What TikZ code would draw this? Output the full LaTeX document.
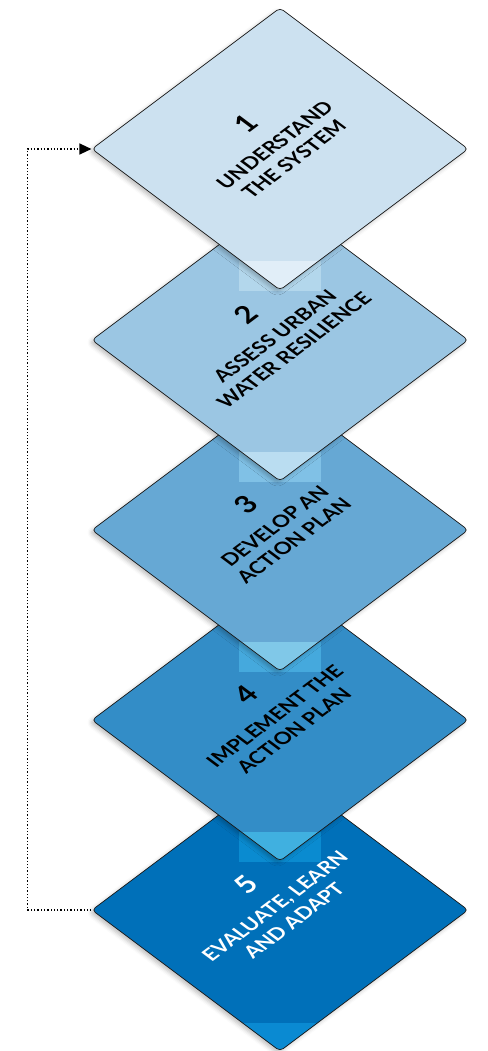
\documentclass[tikz,border=0pt]{standalone}
\usepackage{fontspec}
\setmainfont{Lato}
\usepackage{tikz}
\usetikzlibrary{arrows.meta,positioning,shadows.blur}
\definecolor{stageone}{HTML}{CCE1F0}
\definecolor{stagetwo}{HTML}{9BC6E3}
\definecolor{stagethree}{HTML}{66A8D4}
\definecolor{stagefour}{HTML}{338DC7}
\definecolor{stagefive}{HTML}{0070B9}
\definecolor{tabupone}{HTML}{E1EEF8}
\definecolor{tablowone}{HTML}{B3D7EC}
\definecolor{tabuptwo}{HTML}{BADDF1}
\definecolor{tablowtwo}{HTML}{80C1E6}
\definecolor{tabupthree}{HTML}{80C8E8}
\definecolor{tablowthree}{HTML}{45A9DD}
\definecolor{tabupfour}{HTML}{40B0E0}
\definecolor{tablowfour}{HTML}{0A8BD0}
\definecolor{tabfive}{HTML}{0A8AD2}
\newcommand\stagenum[1]{{\fontsize{28}{28}\selectfont #1}}

\begin{document}
\begin{tikzpicture}[
  x=1pt, y=1pt,
  stage/.style={rectangle, draw=black!90, line width=0.7pt, rounded corners=4pt, minimum size=235pt, inner sep=0pt, cm={0.8,0.6,-0.8,0.6,(0,0)}, blur shadow={shadow xshift=-2.5pt, shadow yshift=-2.5pt, shadow blur radius=4pt, shadow opacity=25}},
  stagetext/.style={cm={0.8,0.6,-0.8,0.6,(0,0)}, yshift=14pt, align=center, inner sep=0pt, font=\bfseries\fontsize{20}{24}\selectfont},
  tabtop/.style 2 args={path picture={\pgftransformreset\fill[#1] (239,#2) rectangle (321,#2-30);}},
  back/.style={-{Triangle[length=12pt,width=11pt]}, line width=1.3pt, dash pattern=on 1.3pt off 2pt, black}
]
  \useasboundingbox (0,0) rectangle (487,-1051);
  % bottom stage first, the upper ones lie on top
  \node[stage, fill=stagefive, tabtop={tabfive}{-1023}] (s5) at (280,-910) {};
  \node[stagetext, text=white] (t5) at (s5.center) {\stagenum{5}\\[9pt] EVALUATE, LEARN\\ AND ADAPT};
  \fill[tablowfour] (239,-832) rectangle (321,-862);
  \node[stage, fill=stagefour, tabtop={tabupfour}{-832}] (s4) at (280,-720) {};
  \node[stagetext] (t4) at (s4.center) {\stagenum{4}\\[9pt] IMPLEMENT THE\\ ACTION PLAN};
  \fill[tablowthree] (239,-642) rectangle (321,-672);
  \node[stage, fill=stagethree, tabtop={tabupthree}{-642}] (s3) at (280,-530) {};
  \node[stagetext] (t3) at (s3.center) {\stagenum{3}\\[9pt] DEVELOP AN\\ ACTION PLAN};
  \fill[tablowtwo] (239,-452) rectangle (321,-482);
  \node[stage, fill=stagetwo, tabtop={tabuptwo}{-452}] (s2) at (280,-340) {};
  \node[stagetext] (t2) at (s2.center) {\stagenum{2}\\[9pt] ASSESS URBAN\\ WATER RESILIENCE};
  \fill[tablowone] (239,-261) rectangle (321,-291);
  \node[stage, fill=stageone, tabtop={tabupone}{-261}] (s1) at (280,-149) {};
  \node[stagetext] (t1) at (s1.center) {\stagenum{1}\\[9pt] UNDERSTAND\\ THE SYSTEM};
  % loop back
  \draw[back] (s5.north west) -- ++(-64,0) |- (s1.north west);
\end{tikzpicture}
\end{document}
